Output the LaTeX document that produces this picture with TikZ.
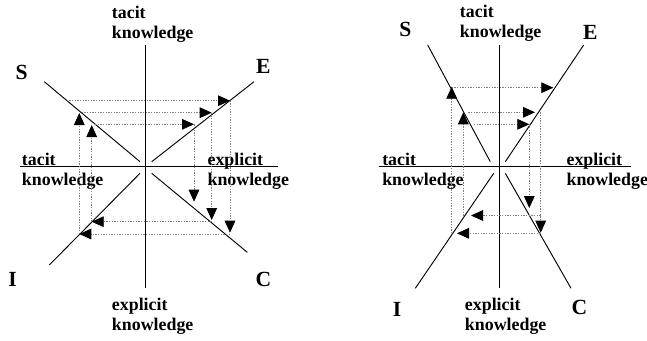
\documentclass[tikz,border=0pt]{standalone}
\usepackage{fontspec}
\setmainfont{Liberation Serif}
\usepackage{tikz}
\usetikzlibrary{arrows.meta}
\tikzset{
    axisln/.style={line width=0.8pt},
    diag/.style={line width=0.7pt},
    spr/.style={-{Triangle[length=9pt,width=8pt,color=black,fill=black]},
                gray, line width=0.6pt, dash pattern=on 1pt off 1pt},
    lbl/.style={font=\fontsize{13.4}{15}\selectfont\bfseries, align=left,
                inner sep=0pt, anchor=base west},
    letter/.style={font=\fontsize{16.2}{18}\selectfont\bfseries, inner sep=0pt},
}

\begin{document}
\begin{tikzpicture}[x=0.75pt,y=-0.75pt]
    \useasboundingbox (0,0) rectangle (647,340);

    % left figure: the spiral closing inwards
    \draw[axisln] (145.7,45) -- (145.7,288);
    \draw[axisln] (20,166.7) -- (278,166.7);
    \draw[diag] (44.3,81.7) -- (140,161.7);
    \draw[diag] (151.7,161.7) -- (254,81.7);
    \draw[diag] (140,173.3) -- (49.3,265);
    \draw[diag] (151.7,173.3) -- (247.3,252.3);

    \node[letter] (lS) at (21.7,72)   {S};
    \node[letter] (lE) at (263.3,66.7) {E};
    \node[letter] (lI) at (12.5,279)  {I};
    \node[letter] (lC) at (263.3,279) {C};

    % base anchor sits on the last line
    \node[lbl] (ltop)   at (111.7,38.3) {tacit\\knowledge};
    \node[lbl] (lleft)  at (21.7,185)   {tacit\\knowledge};
    \node[lbl] (lright) at (207.3,185)  {explicit\\knowledge};
    \node[lbl] (lbot)   at (111.7,330)  {explicit\\knowledge};

    \coordinate (la1) at (66.7,100.7);  \coordinate (lb1) at (230,100.7);
    \coordinate (la2) at (81.7,112.7);  \coordinate (lb2) at (211.7,112.7);
    \coordinate (la3) at (95,124.3);    \coordinate (lb3) at (194,124.3);
    \coordinate (lc1) at (230,232.7);   \coordinate (lc2) at (211.7,220);
    \coordinate (lc3) at (194,201.7);
    \coordinate (ld1) at (230,234);     \coordinate (le1) at (79.3,234);
    \coordinate (ld2) at (211.7,221.7); \coordinate (le2) at (91.7,221.7);
    \coordinate (lf1) at (79.3,113);    \coordinate (lf2) at (91.7,125);

    \draw[spr] (la1) -- (lb1);
    \draw[spr] (la2) -- (lb2);
    \draw[spr] (la3) -- (lb3);
    \draw[spr] (lb1) -- (lc1);
    \draw[spr] (lb2) -- (lc2);
    \draw[spr] (lb3) -- (lc3);
    \draw[spr] (ld1) -- (le1);
    \draw[spr] (ld2) -- (le2);
    \draw[spr] (le1) -- (lf1);
    \draw[spr] (le2) -- (lf2);

    % right figure: the spiral opening outwards
    \draw[axisln] (499.3,45) -- (499.3,288.3);
    \draw[axisln] (378.7,166.7) -- (631,166.7);
    \draw[diag] (427.7,45) -- (490.3,161.7);
    \draw[diag] (583.7,45) -- (505.3,161.7);
    \draw[diag] (493.7,173.3) -- (415.3,288.3);
    \draw[diag] (505.3,173.3) -- (571,288.3);

    \node[letter] (rS) at (405.3,29)    {S};
    \node[letter] (rE) at (590.3,32.2)  {E};
    \node[letter] (rI) at (397,309)     {I};
    \node[letter] (rC) at (579.5,307.5) {C};

    \node[lbl] (rtop)   at (459.7,37.3) {tacit\\knowledge};
    \node[lbl] (rleft)  at (382,185)    {tacit\\knowledge};
    \node[lbl] (rright) at (566.3,185)  {explicit\\knowledge};
    \node[lbl] (rbot)   at (464.7,330)  {explicit\\knowledge};

    \coordinate (ra1) at (451.7,87.7);  \coordinate (rb1) at (553.3,87.7);
    \coordinate (ra2) at (468.3,112.3); \coordinate (rb2) at (535,112.3);
    \coordinate (ra3) at (474,124.3);   \coordinate (rb3) at (529.3,124.3);
    \coordinate (rt2) at (540.7,112.3); \coordinate (rc2) at (540.7,232.7);
    \coordinate (rc3) at (529.3,208);
    \coordinate (rd1) at (540.7,233.3); \coordinate (re1) at (457,233.3);
    \coordinate (rd2) at (540.7,215.5); \coordinate (re2) at (471,215.5);
    \coordinate (rg1) at (451.7,233.3); \coordinate (rf1) at (451.7,86.7);
    \coordinate (rg2) at (463.3,215.5); \coordinate (rf2) at (463.3,112.3);

    \draw[spr] (ra1) -- (rb1);
    \draw[spr] (ra2) -- (rb2);
    \draw[spr] (ra3) -- (rb3);
    \draw[spr] (rt2) -- (rc2);
    \draw[spr] (rb3) -- (rc3);
    \draw[spr] (rd1) -- (re1);
    \draw[spr] (rd2) -- (re2);
    \draw[spr] (rg1) -- (rf1);
    \draw[spr] (rg2) -- (rf2);
\end{tikzpicture}
\end{document}
